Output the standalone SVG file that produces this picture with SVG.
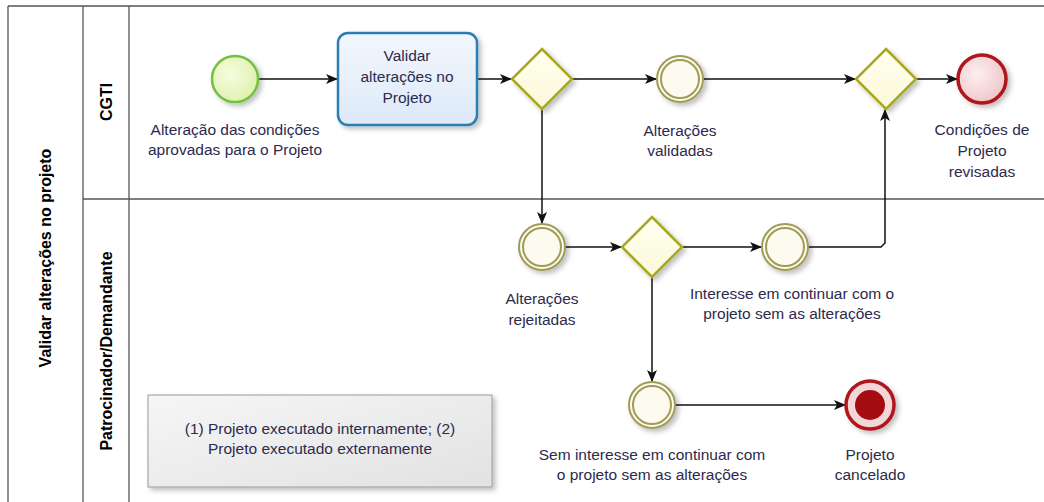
<svg xmlns="http://www.w3.org/2000/svg" width="1044" height="502" viewBox="0 0 1044 502">
<style>
.lbl{font-family:"Liberation Sans",Arial,sans-serif;font-size:15.5px;fill:#2d2a4e;text-anchor:middle}
.hdr{font-family:"Liberation Sans",Arial,sans-serif;font-size:16px;font-weight:bold;fill:#000;text-anchor:middle}
.frame{stroke:#555;stroke-width:1.3;fill:none}
.flow{stroke:#111;stroke-width:1.5;fill:none;marker-end:url(#arr)}
.gw{fill:url(#gwg);stroke:#a8a820;stroke-width:2.5}
.ie{fill:#fdfbef;stroke:#a09c58;stroke-width:2}
</style>
<defs>
<marker id="arr" viewBox="0 0 12 10" refX="11" refY="5" markerWidth="12" markerHeight="10" markerUnits="userSpaceOnUse" orient="auto">
<path d="M0,0 L12,5 L0,10 L3,5 Z" fill="#111"/>
</marker>
<filter id="sh" x="-30%" y="-30%" width="160%" height="160%">
<feDropShadow dx="3" dy="3" stdDeviation="2.5" flood-color="#000" flood-opacity="0.25"/>
</filter>
<radialGradient id="startg" cx="40%" cy="40%" r="60%"><stop offset="0" stop-color="#f7fde0"/><stop offset="1" stop-color="#e0f2b0"/></radialGradient>
<radialGradient id="endg" cx="40%" cy="40%" r="60%"><stop offset="0" stop-color="#fdf0f0"/><stop offset="1" stop-color="#efc8cc"/></radialGradient>
<linearGradient id="taskg" x1="0" y1="0" x2="0" y2="1"><stop offset="0" stop-color="#f3f7fd"/><stop offset="1" stop-color="#dde9f8"/></linearGradient>
<linearGradient id="gwg" x1="0" y1="0" x2="0" y2="1"><stop offset="0" stop-color="#fffff0"/><stop offset="1" stop-color="#fbf9d8"/></linearGradient>
<linearGradient id="noteg" x1="0" y1="0" x2="1" y2="1"><stop offset="0" stop-color="#f6f6f6"/><stop offset="1" stop-color="#e2e2e2"/></linearGradient>
</defs>
<rect x="0" y="0" width="1044" height="502" fill="#fff"/>
<g id="pool">
<line class="frame" x1="8" y1="6" x2="1044" y2="6"/>
<line class="frame" x1="8" y1="6" x2="8" y2="502"/>
<line class="frame" x1="83" y1="6" x2="83" y2="502"/>
<line class="frame" x1="129" y1="6" x2="129" y2="502"/>
<line class="frame" x1="83" y1="199" x2="1044" y2="199"/>
<text class="hdr" transform="translate(51,258) rotate(-90)">Validar alterações no projeto</text>
<text class="hdr" transform="translate(112,102) rotate(-90)">CGTI</text>
<text class="hdr" transform="translate(112,351) rotate(-90)">Patrocinador/Demandante</text>
</g>
<g id="connectors">
<line class="flow" x1="258" y1="79" x2="337" y2="79"/>
<line class="flow" x1="477" y1="79" x2="511" y2="79"/>
<line class="flow" x1="572" y1="79" x2="656" y2="79"/>
<line class="flow" x1="703" y1="79" x2="855" y2="79"/>
<line class="flow" x1="916" y1="79" x2="957" y2="79"/>
<line class="flow" x1="542" y1="109" x2="542" y2="223"/>
<line class="flow" x1="565" y1="247" x2="621" y2="247"/>
<line class="flow" x1="682" y1="247" x2="761" y2="247"/>
<path class="flow" d="M808,247 H881 L885,243 V110"/>
<line class="flow" x1="652" y1="277" x2="652" y2="381"/>
<line class="flow" x1="675" y1="405" x2="845" y2="405"/>
</g>
<g id="start">
<circle cx="235" cy="79" r="23" fill="url(#startg)" stroke="#72c140" stroke-width="2.5" filter="url(#sh)"/>
<text class="lbl" x="235" y="135">Alteração das condições</text>
<text class="lbl" x="235" y="155">aprovadas para o Projeto</text>
</g>
<g id="task">
<rect x="338" y="33" width="139" height="92" rx="10" fill="url(#taskg)" stroke="#2c7fb2" stroke-width="2.5" filter="url(#sh)"/>
<text class="lbl" x="407" y="61">Validar</text>
<text class="lbl" x="407" y="82">alterações no</text>
<text class="lbl" x="407" y="103">Projeto</text>
</g>
<g id="gw1">
<polygon class="gw" points="542,49 572,79 542,109 512,79" filter="url(#sh)"/>
</g>
<g id="validadas">
<circle class="ie" cx="680" cy="79" r="23" filter="url(#sh)"/>
<circle cx="680" cy="79" r="19" fill="none" stroke="#a09c58" stroke-width="2"/>
<text class="lbl" x="680" y="136">Alterações</text>
<text class="lbl" x="680" y="156">validadas</text>
</g>
<g id="gw2">
<polygon class="gw" points="886,49 916,79 886,109 856,79" filter="url(#sh)"/>
</g>
<g id="end1">
<circle cx="982" cy="79" r="24" fill="url(#endg)" stroke="#b0161c" stroke-width="3.5" filter="url(#sh)"/>
<text class="lbl" x="982" y="135">Condições de</text>
<text class="lbl" x="982" y="156">Projeto</text>
<text class="lbl" x="982" y="177">revisadas</text>
</g>
<g id="rejeitadas">
<circle class="ie" cx="542" cy="247" r="23" filter="url(#sh)"/>
<circle cx="542" cy="247" r="19" fill="none" stroke="#a09c58" stroke-width="2"/>
<text class="lbl" x="542" y="304">Alterações</text>
<text class="lbl" x="542" y="325">rejeitadas</text>
</g>
<g id="gw3">
<polygon class="gw" points="652,217 682,247 652,277 622,247" filter="url(#sh)"/>
</g>
<g id="interesse">
<circle class="ie" cx="785" cy="247" r="23" filter="url(#sh)"/>
<circle cx="785" cy="247" r="19" fill="none" stroke="#a09c58" stroke-width="2"/>
<text class="lbl" x="792" y="299">Interesse em continuar com o</text>
<text class="lbl" x="792" y="319">projeto sem as alterações</text>
</g>
<g id="seminteresse">
<circle class="ie" cx="652" cy="405" r="23" filter="url(#sh)"/>
<circle cx="652" cy="405" r="19" fill="none" stroke="#a09c58" stroke-width="2"/>
<text class="lbl" x="652" y="460">Sem interesse em continuar com</text>
<text class="lbl" x="652" y="480">o projeto sem as alterações</text>
</g>
<g id="end2">
<circle cx="870" cy="405" r="24" fill="#f3d6d8" stroke="#b0161c" stroke-width="3.5" filter="url(#sh)"/>
<circle cx="870" cy="405" r="15" fill="#a50c12"/>
<text class="lbl" x="870" y="460">Projeto</text>
<text class="lbl" x="870" y="480">cancelado</text>
</g>
<g id="note">
<rect x="148" y="395" width="344" height="92" fill="url(#noteg)" stroke="#9a9a9a" stroke-width="1" filter="url(#sh)"/>
<text class="lbl" x="320" y="434">(1) Projeto executado internamente; (2)</text>
<text class="lbl" x="320" y="454">Projeto executado externamente</text>
</g>
</svg>
